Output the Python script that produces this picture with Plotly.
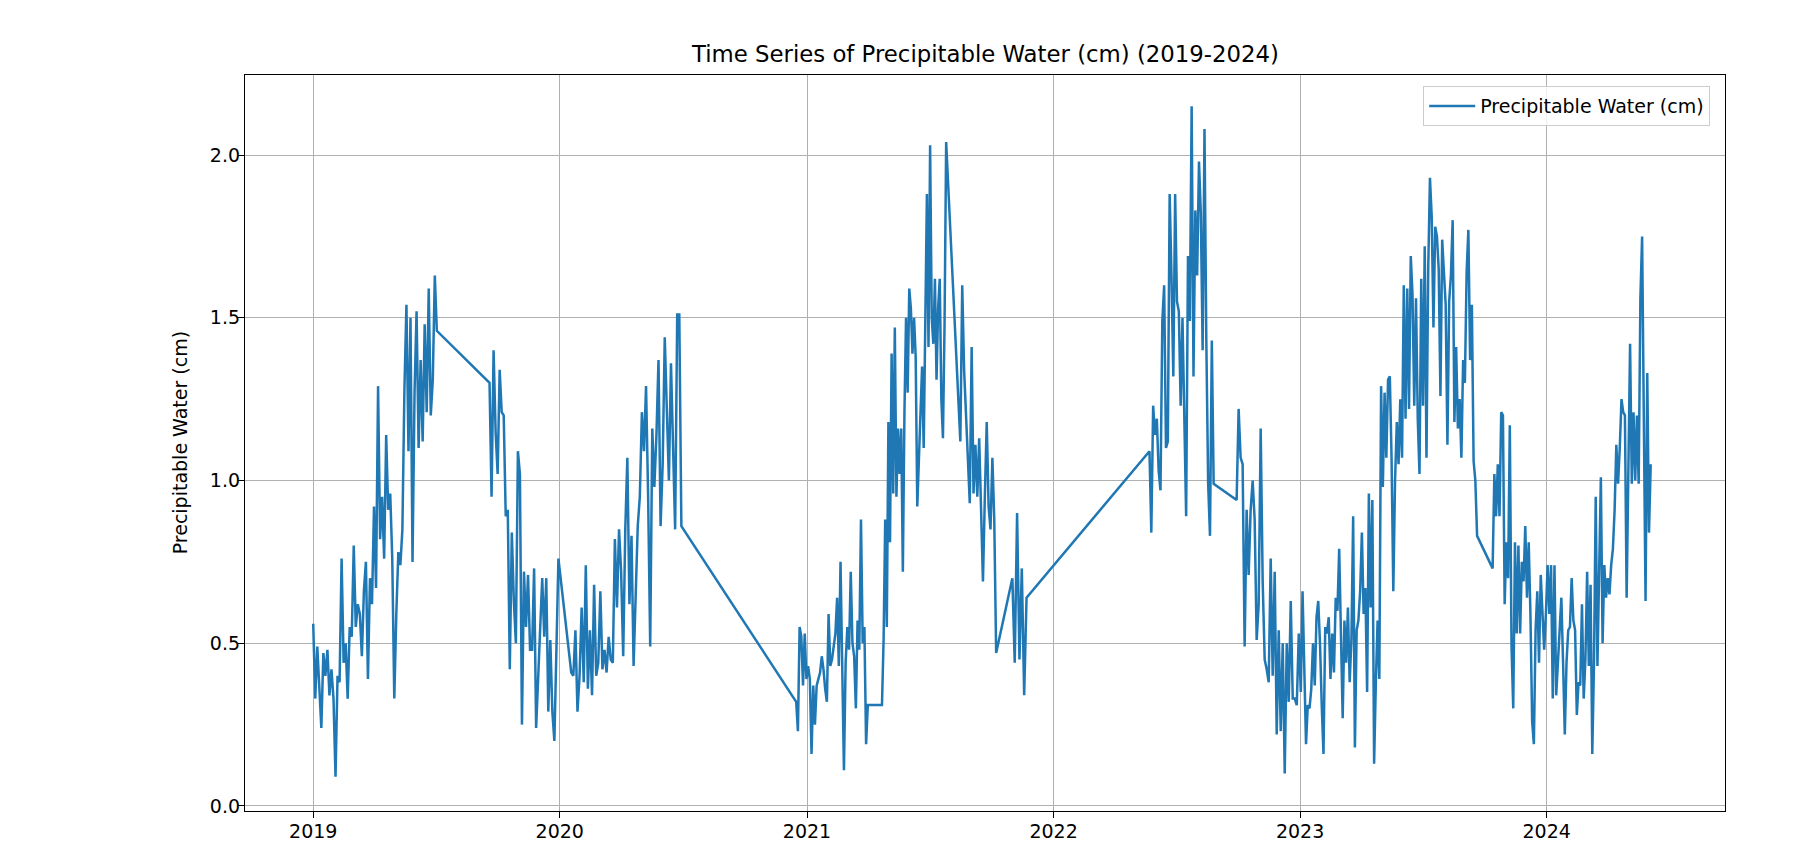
import pandas as pd
import plotly.graph_objects as go

seg_a_start, seg_a_end = "2019-01-01", "2019-07-03"
seg_a_vals = [0.56, 0.33, 0.49, 0.36, 0.24, 0.47, 0.40, 0.48, 0.34, 0.42, 0.33, 0.09, 0.40, 0.38,
              0.76, 0.44, 0.50, 0.33, 0.55, 0.52, 0.80, 0.55, 0.62, 0.59, 0.46, 0.66, 0.75, 0.39,
              0.70, 0.62, 0.92, 0.67, 1.29, 0.82, 0.95, 0.76, 1.14, 0.91, 0.96, 0.76, 0.33, 0.59,
              0.78, 0.74, 0.85, 1.28, 1.54, 1.09, 1.50, 0.75, 1.27, 1.52, 1.10, 1.37, 1.12, 1.48,
              1.21, 1.59, 1.20, 1.31, 1.63, 1.46]

seg_b1_start, seg_b1_end = "2019-09-19", "2019-12-30"
seg_b1_vals = [1.30, 0.95, 1.40, 1.15, 1.02, 1.34, 1.21, 1.20, 0.89, 0.91, 0.42, 0.84, 0.63, 0.50,
               1.09, 1.02, 0.25, 0.72, 0.55, 0.71, 0.48, 0.48, 0.73, 0.24, 0.40, 0.57, 0.70, 0.52,
               0.70, 0.29, 0.51, 0.29, 0.20, 0.48, 0.76]

seg_b2_start, seg_b2_end = "2020-01-18", "2020-06-29"
seg_b2_vals = [0.41, 0.40, 0.54, 0.29, 0.40, 0.61, 0.38, 0.74, 0.36, 0.54, 0.34, 0.68, 0.40, 0.44,
               0.66, 0.42, 0.48, 0.41, 0.52, 0.45, 0.44, 0.82, 0.61, 0.85, 0.72, 0.46, 0.85, 1.07,
               0.62, 0.83, 0.43, 0.69, 0.86, 0.95, 1.21, 1.09, 1.29, 0.95, 0.49, 1.16, 0.98, 1.14,
               1.37, 0.86, 1.05, 1.44, 1.21, 1.00, 1.36, 1.11, 0.85, 1.51, 1.51, 0.86]

seg_c1_start, seg_c1_end = "2020-12-16", "2021-04-01"
seg_c1_vals = [0.32, 0.23, 0.55, 0.52, 0.37, 0.53, 0.39, 0.43, 0.39, 0.16, 0.37, 0.25, 0.37, 0.39,
               0.41, 0.46, 0.42, 0.36, 0.32, 0.59, 0.43, 0.45, 0.50, 0.53, 0.64, 0.43, 0.75, 0.43,
               0.11, 0.44, 0.55, 0.48, 0.72, 0.50, 0.46, 0.30, 0.57, 0.48, 0.88, 0.50, 0.55, 0.19,
               0.31]

seg_c2_start, seg_c2_end = "2021-04-22", "2021-07-26"
seg_c2_vals = [0.31, 0.51, 0.88, 0.55, 1.18, 0.81, 1.39, 0.96, 1.47, 0.95, 1.16, 1.02, 1.16, 0.72,
               1.21, 1.50, 1.27, 1.59, 1.53, 1.39, 1.50, 1.38, 0.92, 1.09, 1.20, 1.35, 1.10, 1.59,
               1.88, 1.41, 2.03, 1.50, 1.42, 1.62, 1.31, 1.53, 1.62, 1.25, 1.13, 1.48, 2.04]

seg_c3_start, seg_c3_end = "2021-08-16", "2021-10-08"
seg_c3_vals = [1.12, 1.60, 1.34, 1.20, 1.06, 0.93, 1.41, 0.96, 1.11, 0.95, 1.13, 0.92, 0.69, 0.95,
               1.18, 0.92, 0.85, 1.07, 0.88, 0.47]

seg_c4_start, seg_c4_end = "2021-11-01", "2021-11-22"
seg_c4_vals = [0.70, 0.44, 0.90, 0.45, 0.73, 0.34, 0.64]

seg_d_start, seg_d_end = "2022-05-23", "2022-08-26"
seg_d_vals = [1.09, 0.84, 1.23, 1.14, 1.19, 1.03, 0.97, 1.49, 1.60, 1.10, 1.12, 1.88, 1.63, 1.32,
              1.88, 1.55, 1.52, 1.23, 1.50, 1.14, 0.89, 1.69, 1.49, 2.15, 1.32, 1.83, 1.63, 1.98,
              1.82, 1.40, 2.08, 1.43, 0.99, 0.83, 1.43, 0.99]

seg_e1_start, seg_e1_end = "2022-09-29", "2022-12-30"
seg_e1_vals = [0.94, 1.22, 1.07, 1.05, 0.49, 0.91, 0.71, 0.91, 1.00, 0.88, 0.51, 0.62, 1.16, 0.69,
               0.45, 0.42, 0.38, 0.76, 0.40, 0.72, 0.22, 0.54, 0.23, 0.50, 0.10, 0.50, 0.32, 0.63,
               0.33, 0.33, 0.31, 0.53]

seg_e2_start, seg_e2_end = "2023-01-02", "2023-09-20"
seg_e2_vals = [0.35, 0.66, 0.38, 0.19, 0.31, 0.30, 0.36, 0.50, 0.37, 0.58, 0.63, 0.50, 0.31, 0.16,
               0.55, 0.53, 0.58, 0.39, 0.53, 0.41, 0.64, 0.60, 0.79, 0.57, 0.27, 0.57, 0.44, 0.61,
               0.38, 0.51, 0.89, 0.18, 0.54, 0.57, 0.66, 0.84, 0.59, 0.67, 0.35, 0.96, 0.61, 0.94,
               0.13, 0.38, 0.57, 0.39, 1.29, 0.98, 1.27, 1.07, 1.31, 1.32, 1.07, 0.66, 1.00, 1.18,
               1.05, 1.25, 1.07, 1.60, 1.19, 1.59, 1.22, 1.69, 1.57, 1.23, 1.56, 1.19, 1.02, 1.62,
               1.23, 1.72, 1.07, 1.65, 1.93, 1.81, 1.47, 1.78, 1.75, 1.65, 1.26, 1.74, 1.64, 1.54,
               1.11, 1.55, 1.63, 1.80, 1.18, 1.41, 1.16, 1.25, 1.07, 1.37, 1.30, 1.64, 1.77, 1.37,
               1.54, 1.06, 1.00, 0.83]

seg_f_start, seg_f_end = "2023-10-13", "2024-06-03"
seg_f_vals = [0.73, 1.02, 0.89, 1.05, 0.89, 1.21, 1.20, 0.62, 0.81, 0.70, 1.17, 0.49, 0.30, 0.81,
              0.53, 0.80, 0.53, 0.75, 0.69, 0.86, 0.64, 0.81, 0.59, 0.26, 0.19, 0.54, 0.66, 0.44,
              0.71, 0.60, 0.48, 0.59, 0.74, 0.59, 0.74, 0.33, 0.74, 0.34, 0.44, 0.58, 0.64, 0.44,
              0.22, 0.44, 0.54, 0.55, 0.70, 0.57, 0.54, 0.28, 0.38, 0.37, 0.62, 0.33, 0.45, 0.72,
              0.43, 0.68, 0.16, 0.44, 0.95, 0.43, 0.69, 1.01, 0.50, 0.74, 0.64, 0.70, 0.65, 0.74,
              0.79, 0.91, 1.11, 0.99, 1.10, 1.25, 1.21, 1.20, 0.64, 0.99, 1.42, 0.99, 1.21, 1.00,
              1.20, 0.99, 1.56, 1.75, 1.26, 0.63, 1.33, 0.84, 1.05]

year_ticks = ["2019", "2020", "2021", "2022", "2023", "2024"]
y_ticks = [0.0, 0.5, 1.0, 1.5, 2.0]

segments = [
    (seg_a_start, seg_a_end, seg_a_vals),
    (seg_b1_start, seg_b1_end, seg_b1_vals),
    (seg_b2_start, seg_b2_end, seg_b2_vals),
    (seg_c1_start, seg_c1_end, seg_c1_vals),
    (seg_c2_start, seg_c2_end, seg_c2_vals),
    (seg_c3_start, seg_c3_end, seg_c3_vals),
    (seg_c4_start, seg_c4_end, seg_c4_vals),
    (seg_d_start, seg_d_end, seg_d_vals),
    (seg_e1_start, seg_e1_end, seg_e1_vals),
    (seg_e2_start, seg_e2_end, seg_e2_vals),
    (seg_f_start, seg_f_end, seg_f_vals),
]

dates, values = [], []
for s, e, v in segments:
    dates.extend(pd.date_range(s, e, periods=len(v)))
    values.extend(v)

fig = go.Figure()
fig.add_trace(go.Scatter(
    x=dates, y=values, mode="lines", name="Precipitable Water (cm)",
    line=dict(color="#1f77b4", width=2.5),
))

FONT = "DejaVu Sans"
FS = 19
fig.update_layout(
    width=1797, height=847,
    margin=dict(l=245, r=72, t=75, b=36, autoexpand=False),
    paper_bgcolor="white", plot_bgcolor="white",
    font=dict(family=FONT, size=FS, color="#000000"),
    showlegend=True,
    legend=dict(
        x=0.990, y=0.985, xanchor="right", yanchor="top",
        bgcolor="rgba(255,255,255,0.8)", bordercolor="#cccccc", borderwidth=1,
        itemwidth=46, tracegroupgap=0,
        font=dict(family=FONT, size=FS, color="#000000"),
    ),
)

fig.update_xaxes(
    range=["2018-09-22", "2024-09-21"],
    tickvals=[f"{y}-01-01" for y in year_ticks], ticktext=year_ticks,
    ticks="outside", ticklen=6, tickwidth=1.3, tickcolor="#000000",
    showgrid=True, gridcolor="#b0b0b0", gridwidth=1.3,
    showline=True, linecolor="#000000", linewidth=1.3, mirror=True,
    zeroline=False, automargin=False, ticklabelstandoff=-3,
    tickfont=dict(family=FONT, size=FS, color="#000000"),
)
fig.update_yaxes(
    range=[-0.0154, 2.246],
    tickvals=y_ticks, tickformat=".1f",
    ticks="outside", ticklen=6, tickwidth=1.3, tickcolor="#000000",
    showgrid=True, gridcolor="#b0b0b0", gridwidth=1.3,
    showline=True, linecolor="#000000", linewidth=1.3, mirror=True,
    zeroline=False, automargin=False, ticklabelstandoff=-6,
    tickfont=dict(family=FONT, size=FS, color="#000000"),
)

fig.add_annotation(
    text="Time Series of Precipitable Water (cm) (2019-2024)",
    xref="paper", yref="paper", x=0.5, y=1, xanchor="center", yanchor="bottom",
    yshift=6, showarrow=False, font=dict(family=FONT, size=22.8, color="#000000"),
)
fig.add_annotation(
    text="Precipitable Water (cm)",
    xref="paper", yref="paper", x=-0.0437, y=0.5, xanchor="center", yanchor="middle",
    textangle=-90, showarrow=False, font=dict(family=FONT, size=FS, color="#000000"),
)

fig.write_html(
    "out.html",
    config={"displayModeBar": False},
    post_script="document.body.style.margin='0';document.body.style.overflow='hidden';",
)
